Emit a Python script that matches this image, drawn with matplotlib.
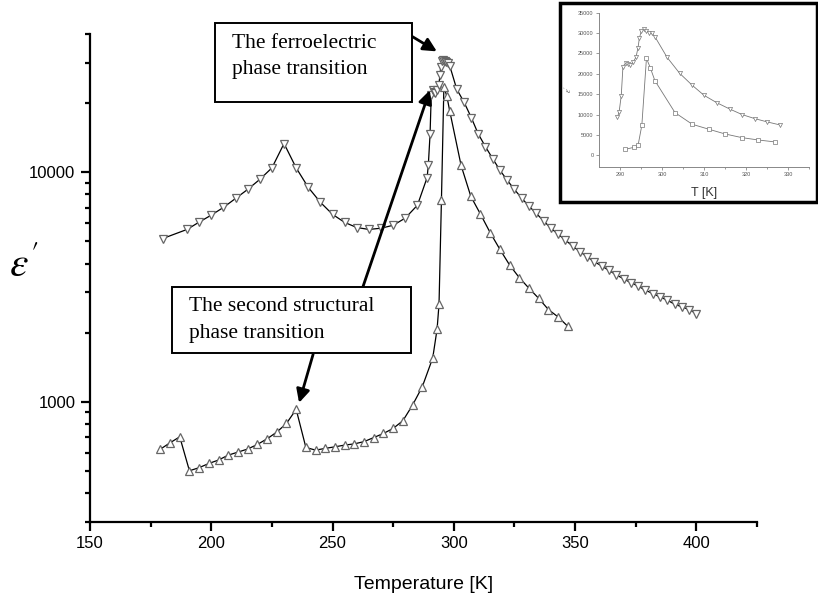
import numpy as np
import matplotlib.pyplot as plt
import matplotlib.ticker as tck
from matplotlib.patches import Rectangle

plt.rcParams['font.family'] = 'Liberation Sans'
plt.rcParams['mathtext.fontset'] = 'stix'

# upper curve (down triangles)
T_up = [180, 190, 195, 200, 205, 210, 215, 220, 225, 230, 235, 240, 245, 250, 255, 260, 265, 270, 275, 280, 285,
        289, 289.5, 290.2, 290.7, 291.4, 291.9, 292.4, 293.1, 293.8, 294.3, 294.6, 295.1, 295.7, 296.3, 296.9, 297.6,
        298.3, 301.2, 304.2, 307.2, 310, 313, 316, 319, 322, 325, 328, 331, 334, 337, 340, 343, 346, 349, 352, 355,
        358, 361, 364, 367, 370, 373, 376, 379, 382, 385, 388, 391, 394, 397, 400]
eps_up = [5140, 5630, 6060, 6500, 7020, 7680, 8410, 9300, 10440, 13330, 10440, 8580, 7390, 6550, 6040, 5740, 5630,
          5700, 5870, 6310, 7180, 9480, 10800, 14600, 21800, 22750, 22420, 22180, 22830, 24060, 26430, 28720, 30600,
          30930, 30600, 30110, 29950, 29130, 23000, 20200, 17300, 14730, 12930, 11470, 10200, 9230, 8405, 7700, 7110,
          6610, 6140, 5700, 5370, 5060, 4760, 4510, 4270, 4070, 3900, 3730, 3570, 3430, 3300, 3190, 3060, 2960, 2860,
          2770, 2660, 2590, 2520, 2420]

# lower curve (up triangles)
T_low = [179, 183, 187, 191, 195, 199, 203, 207, 211, 215, 219, 223, 227, 231, 235, 239, 243, 247, 251, 255, 259,
         263, 267, 271, 275, 279, 283, 287, 291.3, 293.1, 293.9, 294.9, 295.9, 297.1, 298.3, 303, 307, 311, 315, 319,
         323, 327, 331, 335, 339, 343, 347]
eps_low = [621, 662, 703, 500, 516, 538, 557, 585, 603, 622, 651, 689, 737, 804, 926, 632, 615, 626, 636, 647, 655,
           670, 698, 727, 765, 826, 967, 1162, 1550, 2070, 2660, 7600, 23500, 21500, 18500, 10700, 7850, 6560, 5450,
           4610, 3940, 3470, 3120, 2820, 2520, 2340, 2130]

# inset data (linear scale)
Ti_up = [289.4, 289.8, 290.3, 290.7, 291.4, 291.9, 292.4, 293.1, 293.8, 294.3, 294.6, 295.1, 295.7, 296.3, 296.9,
         297.6, 298.3, 301.2, 304.2, 307.2, 310.0, 313.0, 316.1, 319.1, 322.1, 325.1, 328.1]
epsi_up = [9330, 10720, 14650, 21770, 22750, 22420, 22180, 22830, 24060, 26430, 28720, 30600, 30930, 30600, 30110,
           29950, 29130, 24060, 20130, 17180, 14730, 12930, 11370, 9980, 9000, 8180, 7450]
Ti_sq = [291.3, 293.3, 294.3, 295.2, 296.3, 297.2, 298.3, 303.1, 307.2, 311.2, 315.0, 319.0, 322.9, 327.0]
epsi_sq = [1470, 1960, 2450, 7360, 23810, 21520, 18330, 10470, 7610, 6380, 5240, 4340, 3760, 3270]

W, H = 818, 600

def px_rect(x0, y0, x1, y1):
    # pixel box (top-left origin) -> figure fraction rect
    return [x0 / W, 1 - y1 / H, (x1 - x0) / W, (y1 - y0) / H]

fig = plt.figure(figsize=(8.18, 6), dpi=100)
ax = fig.add_axes(px_rect(90, 34, 757, 521.7))

ax.plot(T_up, eps_up, color='black', lw=0.9, zorder=2)
ax.plot(T_up, eps_up, ls='none', marker='v', ms=6, mfc='white', mec='#666666', mew=0.9, zorder=3)
ax.plot(T_low, eps_low, color='black', lw=0.9, zorder=2)
ax.plot(T_low, eps_low, ls='none', marker='^', ms=6, mfc='white', mec='#666666', mew=0.9, zorder=3)

ax.set_yscale('log')
ax.set_xlim(150, 425)
ax.set_ylim(300, 40000)
ax.xaxis.set_major_locator(tck.FixedLocator([150, 200, 250, 300, 350, 400]))
ax.xaxis.set_minor_locator(tck.FixedLocator([175, 225, 275, 325, 375, 425]))
ax.yaxis.set_major_locator(tck.FixedLocator([1000, 10000]))
ax.yaxis.set_major_formatter(tck.FuncFormatter(lambda v, p: '%d' % v))
ax.yaxis.set_minor_locator(tck.LogLocator(base=10, subs=np.arange(2, 10)))
ax.yaxis.set_minor_formatter(tck.NullFormatter())
for s in ['top', 'right']:
    ax.spines[s].set_visible(False)
for s in ['left', 'bottom']:
    ax.spines[s].set_linewidth(1.6)
ax.tick_params(which='major', direction='out', length=6.5, width=1.6, labelsize=12, pad=4)
ax.tick_params(which='minor', direction='out', length=3.5, width=1.6)

ax.set_xlabel('Temperature [K]', fontsize=14, labelpad=18)
fig.text(24 / W, 1 - 266 / H, r"$\varepsilon'$", fontsize=30, ha='center', va='center')

# annotation boxes
serif = 'Liberation Serif'
for (x0, y0, x1, y1) in [(215, 23, 411.7, 101.7), (172.3, 286.7, 411, 353.3)]:
    fig.add_artist(Rectangle((x0 / W, 1 - y1 / H), (x1 - x0) / W, (y1 - y0) / H, transform=fig.transFigure,
                             fc='white', ec='black', lw=1.4, zorder=5))
fig.text(232 / W, 1 - 56.5 / H, 'The ferroelectric\nphase transition', fontsize=15.5, family=serif,
         ha='left', va='center', linespacing=1.55, zorder=6)
fig.text(189.3 / W, 1 - 320 / H, 'The second structural\nphase transition', fontsize=15.5, family=serif,
         ha='left', va='center', linespacing=1.55, zorder=6)

arrow = dict(arrowstyle='-|>', color='black', lw=2, mutation_scale=20, shrinkA=0, shrinkB=0)
ax.annotate('', xy=(293.0, 33600), xytext=(282.5, 39200), arrowprops=arrow, annotation_clip=False, zorder=7)
ax.annotate('', xy=(290.1, 22750), xytext=(262.5, 3160), arrowprops=arrow, annotation_clip=False, zorder=7)
ax.annotate('', xy=(236.2, 989), xytext=(242.0, 1611), arrowprops=arrow, annotation_clip=False, zorder=7)

# inset
fig.add_artist(Rectangle((560 / W, 1 - 201.7 / H), 257 / W, 199 / H, transform=fig.transFigure,
                         fc='white', ec='black', lw=2.5, zorder=8))
axi = fig.add_axes(px_rect(599, 12.7, 809, 166.7), zorder=9)
axi.patch.set_alpha(0)
axi.plot(Ti_up, epsi_up, color='#777777', lw=0.6, marker='v', ms=3, mfc='white', mec='#777777', mew=0.5)
axi.plot(Ti_sq, epsi_sq, color='#777777', lw=0.6, marker='s', ms=2.2, mfc='white', mec='#777777', mew=0.5)
axi.set_xlim(285, 335)
axi.set_ylim(-2800, 35000)
axi.set_xticks([290, 300, 310, 320, 330])
axi.set_xticks([295, 305, 315, 325, 335], minor=True)
axi.set_yticks(np.arange(0, 35001, 5000))
for s in ['top', 'right']:
    axi.spines[s].set_visible(False)
for s in ['left', 'bottom']:
    axi.spines[s].set_color('#888888')
    axi.spines[s].set_linewidth(0.7)
axi.tick_params(which='both', direction='out', length=2, width=0.6, color='#888888', labelsize=4,
                labelcolor='#555555', pad=2)
axi.tick_params(which='minor', length=1.2)
axi.set_xlabel('T [K]', fontsize=9, color='#333333', labelpad=7)
axi.set_ylabel(r"$\varepsilon'$", fontsize=6, color='#555555', labelpad=3)

fig.savefig('out.png', dpi=100)
